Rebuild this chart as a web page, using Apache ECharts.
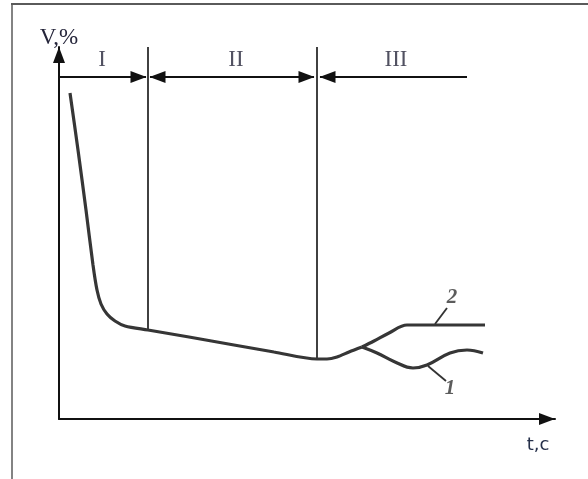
<!DOCTYPE html>
<html><head><meta charset="utf-8">
<script src="https://cdn.jsdelivr.net/npm/echarts@6/dist/echarts.min.js"></script>
<style>html,body{margin:0;padding:0;background:#fff}#c{width:588px;height:479px}</style>
</head><body><div id="c"></div>
<script>
// axis ranges (arbitrary units)
const tMax = 496, vMax = 372;
// common curve (stages I-II and start of III)
const mainT = [11,19,27,34,38,42,48,56,66,89,130,175,215,258,268,278,290,303];
const mainV = [326,269,209,154,129,115,105,98,93,89,82,74,67,60,60,62,67,72];
// branch 2
const curve2T = [303,315,330,348,362,426];
const curve2V = [72,78,86,94,94,94];
// branch 1
const curve1T = [303,318,336,354,368,391,408,424];
const curve1V = [72,66,57,51,54,66,69,66];
// stage boundaries
const boundT = [89, 258];
const boundTopV = 372;
const boundBottomV = [89, 60];
// stage arrows: [start, end] and arrow heads at start/end
const stageArrowV = 342;
const stageArrowFrom = [0, 91, 261];
const stageArrowTo = [87, 255, 408];
const headAtStart = [false, true, true];
const headAtEnd = [true, true, false];
const stageLabels = ['I', 'II', 'III'];
const stageLabelT = [43, 177, 337];
const stageLabelV = 359;
// curve labels and leaders
const curveLabels = ['2', '1'];
const curveLabelT = [393, 391];
const curveLabelV = [121, 30];
const leaderFromT = [376, 369], leaderFromV = [95, 53];
const leaderToT = [388, 387], leaderToV = [111, 38];
// axis titles
const yTitle = 'V,%';
const xTitle = 't,c';

const zip = (a, b) => a.map((v, i) => [v, b[i]]);
const chart = echarts.init(document.getElementById('c'), null, {renderer: 'canvas'});
const series = [];
const curveStyle = {color: '#363636', width: 3.2};
series.push({type: 'line', data: zip(mainT, mainV), smooth: 0.3, showSymbol: false, lineStyle: curveStyle, z: 3});
series.push({type: 'line', data: zip(curve2T, curve2V), smooth: 0.35, showSymbol: false, lineStyle: curveStyle, z: 3});
series.push({type: 'line', data: zip(curve1T, curve1V), smooth: 0.4, showSymbol: false, lineStyle: curveStyle, z: 3});
boundT.forEach((t, i) => {
  series.push({type: 'line', data: [[t, boundTopV], [t, boundBottomV[i]]], showSymbol: false, lineStyle: {color: '#111', width: 1.6}, z: 2});
});
const headSize = [12, 16];
stageArrowFrom.forEach((f, i) => {
  const to = stageArrowTo[i];
  series.push({
    type: 'line', z: 2, lineStyle: {color: '#111', width: 1.8},
    symbolSize: headSize, showSymbol: true,
    itemStyle: {color: '#111'},
    data: [
      headAtStart[i] ? {value: [f, stageArrowV], symbol: 'triangle', symbolRotate: 90, symbolOffset: [7.5, 0]} : {value: [f, stageArrowV], symbol: 'none'},
      headAtEnd[i] ? {value: [to, stageArrowV], symbol: 'triangle', symbolRotate: -90, symbolOffset: [-7.5, 0]} : {value: [to, stageArrowV], symbol: 'none'}
    ]
  });
});
series.push({
  type: 'scatter', symbolSize: 0, z: 4,
  data: stageLabels.map((s, i) => ({name: s, value: [stageLabelT[i], stageLabelV]})),
  label: {show: true, position: 'inside', formatter: '{b}', color: '#25253a', fontFamily: 'Liberation Serif', fontSize: 23}
});
leaderFromT.forEach((t, i) => {
  series.push({type: 'line', data: [[t, leaderFromV[i]], [leaderToT[i], leaderToV[i]]], showSymbol: false, lineStyle: {color: '#333', width: 1.8}, z: 3});
});
series.push({
  type: 'scatter', symbolSize: 0, z: 4,
  data: curveLabels.map((s, i) => ({name: s, value: [curveLabelT[i], curveLabelV[i]]})),
  label: {show: true, position: 'inside', formatter: '{b}', color: '#333', fontFamily: 'Liberation Serif', fontStyle: 'italic', fontWeight: 'bold', fontSize: 21}
});

const axisLine = {show: true, symbol: ['none', 'triangle'], symbolSize: [12, 16], symbolOffset: [0, -8], lineStyle: {color: '#111', width: 2}};
chart.setOption({
  animation: false,
  backgroundColor: '#fff',
  grid: {left: 59, right: 33, top: 47, bottom: 60},
  xAxis: {type: 'value', min: 0, max: tMax, axisLine: axisLine, axisTick: {show: false}, axisLabel: {show: false}, splitLine: {show: false}},
  yAxis: {type: 'value', min: 0, max: vMax, axisLine: axisLine, axisTick: {show: false}, axisLabel: {show: false}, splitLine: {show: false},
    name: yTitle, nameLocation: 'end', nameGap: -2,
    nameTextStyle: {align: 'center', fontFamily: 'Liberation Serif', fontSize: 23, color: '#25253a'}},
  graphic: [
    {type: 'line', shape: {x1: 11, y1: 4, x2: 588, y2: 4}, style: {stroke: '#5a5a5a', lineWidth: 2}},
    {type: 'line', shape: {x1: 12, y1: 4, x2: 12, y2: 479}, style: {stroke: '#5a5a5a', lineWidth: 1.5}},
    {type: 'text', x: 538, y: 445, style: {text: xTitle, fill: '#26304a', font: '18px "DejaVu Sans"', textAlign: 'center', textVerticalAlign: 'middle'}}
  ],
  series: series
});
</script></body></html>
